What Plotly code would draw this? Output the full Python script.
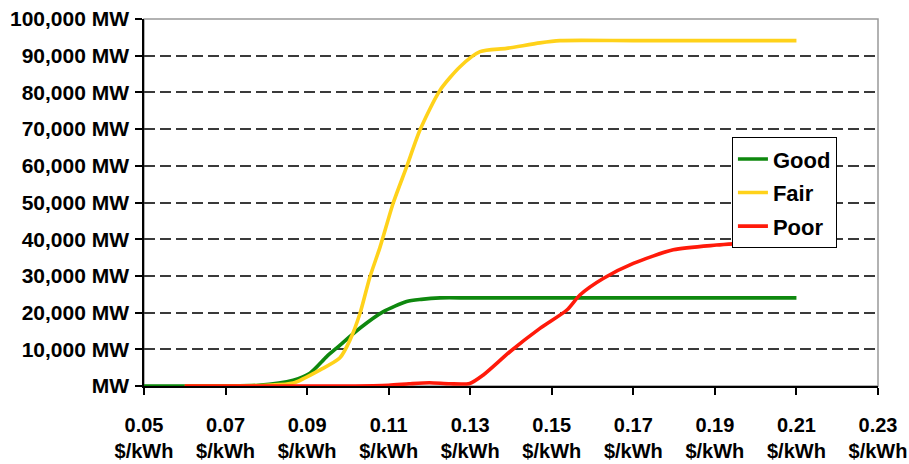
import plotly.graph_objects as go

# ---- data ----
good_x = [0.05, 0.06, 0.07, 0.078, 0.0866, 0.0907, 0.0948, 0.0973, 0.103, 0.1086, 0.1144, 0.118, 0.1226, 0.13, 0.15, 0.17, 0.19, 0.21]
good_y = [0, 0, 0, 200, 1600, 3500, 8000, 10400, 15800, 20200, 23000, 23600, 24000, 24000, 24000, 24000, 24000, 24000]

fair_x = [0.06, 0.07, 0.08, 0.0866, 0.0932, 0.098, 0.1005, 0.103, 0.1054, 0.1079, 0.1111, 0.1144, 0.1177, 0.1226, 0.1275, 0.1324, 0.1389, 0.1471, 0.152, 0.17, 0.19, 0.21]
fair_y = [0, 0, 200, 800, 4400, 7600, 12500, 19900, 29700, 37900, 49800, 59700, 69800, 80600, 87000, 91100, 92000, 93500, 94100, 94100, 94100, 94100]

poor_x = [0.06, 0.08, 0.10, 0.11, 0.115, 0.12, 0.125, 0.1299, 0.1332, 0.1398, 0.1471, 0.1537, 0.1569, 0.1626, 0.17, 0.1798, 0.1904, 0.21]
poor_y = [0, 0, 0, 200, 600, 900, 600, 700, 3000, 9400, 15700, 20700, 24800, 29300, 33400, 37100, 38400, 39800]

x_ticks = [0.05, 0.07, 0.09, 0.11, 0.13, 0.15, 0.17, 0.19, 0.21, 0.23]
x_labels = ["0.05", "0.07", "0.09", "0.11", "0.13", "0.15", "0.17", "0.19", "0.21", "0.23"]
y_ticks = [0, 10000, 20000, 30000, 40000, 50000, 60000, 70000, 80000, 90000, 100000]
y_labels = ["MW", "10,000 MW", "20,000 MW", "30,000 MW", "40,000 MW", "50,000 MW",
            "60,000 MW", "70,000 MW", "80,000 MW", "90,000 MW", "100,000 MW"]

series = [
    ("Good", good_x, good_y, "#0E880E"),
    ("Fair", fair_x, fair_y, "#FFD21A"),
    ("Poor", poor_x, poor_y, "#FF1A0A"),
]

FONT = "Liberation Sans, Arial, sans-serif"

fig = go.Figure()
for name, xs, ys, col in series:
    fig.add_trace(go.Scatter(
        x=xs, y=ys, name=name, mode="lines", legendgroup=name,
        line=dict(color=col, width=3.6, shape="spline", smoothing=0.7),
    ))

fig.update_layout(
    width=909, height=464,
    margin=dict(l=144, r=31, t=19, b=78),
    paper_bgcolor="white", plot_bgcolor="white",
    font=dict(family=FONT, color="black"),
    showlegend=True,
    legend=dict(
        x=0.801, y=0.678, xanchor="left", yanchor="top",
        bgcolor="white", bordercolor="black", borderwidth=1,
        font=dict(family=FONT, size=22, weight="bold", color="black"),
        tracegroupgap=2,
    ),
    shapes=[dict(type="rect", xref="paper", yref="paper", x0=0, y0=0, x1=1, y1=1,
                 line=dict(color="#999999", width=1.5), layer="below")],
)

fig.update_xaxes(
    range=[0.05, 0.23], tickmode="array", tickvals=x_ticks,
    ticktext=[f"{t}<br>$/kWh" for t in x_labels],
    showgrid=False, zeroline=False, automargin=False,
    showline=True, linecolor="black", linewidth=1.5,
    ticks="outside", ticklen=7, tickcolor="black", tickwidth=1.5,
    ticklabelstandoff=13, ticklabeloverflow="allow",
    tickfont=dict(family=FONT, size=20, weight="bold", color="black"),
)
fig.update_yaxes(
    range=[0, 100000], tickmode="array", tickvals=y_ticks, ticktext=y_labels,
    showgrid=True, gridcolor="#3a3a3a", gridwidth=1.5, griddash="11px,5px",
    zeroline=False, automargin=False,
    showline=True, linecolor="black", linewidth=1.5,
    ticks="outside", ticklen=7, tickcolor="black", tickwidth=1.5,
    ticklabelstandoff=2, ticklabeloverflow="allow",
    tickfont=dict(family=FONT, size=21, weight="bold", color="black"),
)

# remove the page's default body margin so the 909x464 figure fills the window exactly
fig.write_html("out.html",
               config={"displayModeBar": False},
               post_script="document.body.style.margin='0';document.body.style.overflow='hidden';")
